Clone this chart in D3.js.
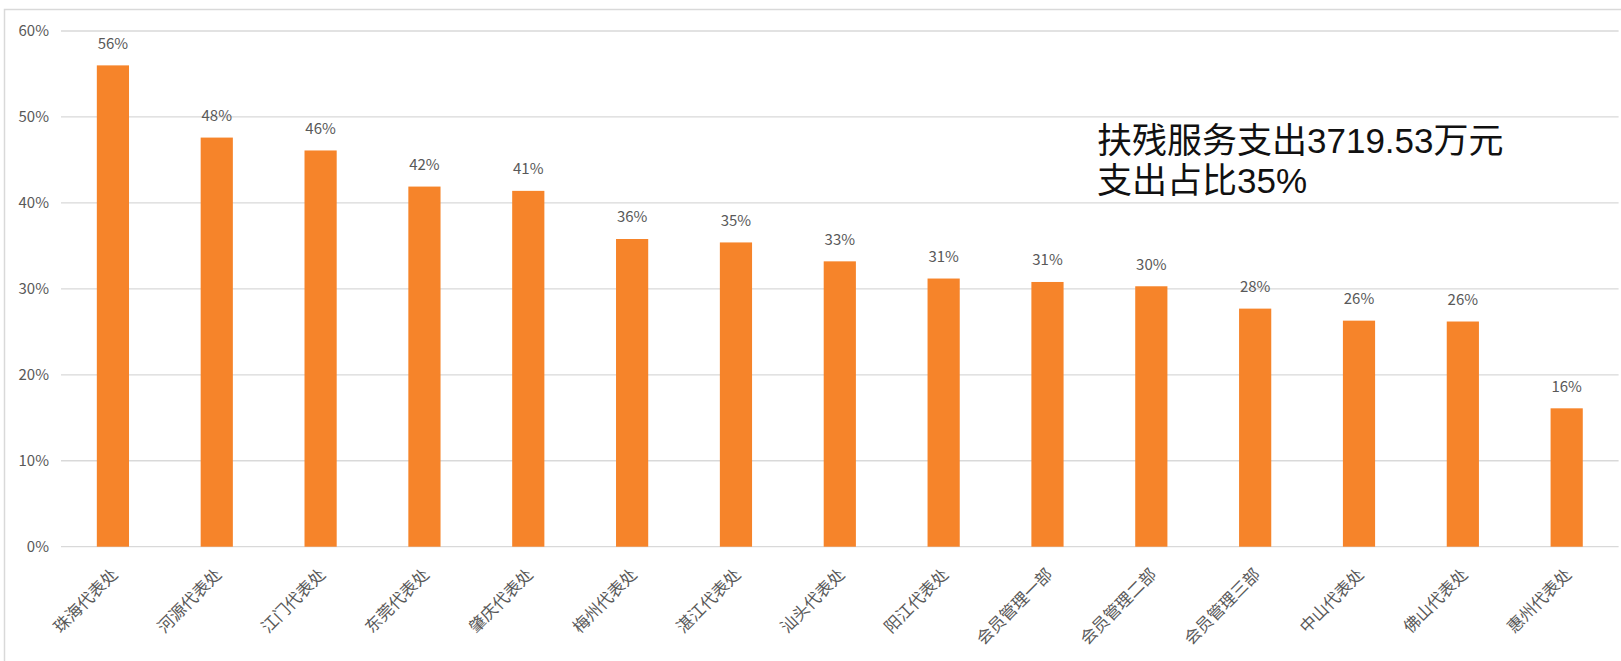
<!DOCTYPE html>
<html>
<head>
<meta charset="utf-8">
<style>
  body { margin: 0; background: #fff; }
  svg text { font-family: "Noto Sans CJK SC", "Noto Sans", sans-serif; }
  svg text.note { font-family: "Liberation Sans", "Noto Sans CJK SC", sans-serif; }
</style>
</head>
<body>
<div id="container"></div>
<script src="https://cdn.jsdelivr.net/npm/d3@7"></script>
<script>
// data (percent)
const categories = ["珠海代表处", "河源代表处", "江门代表处", "东莞代表处", "肇庆代表处",
  "梅州代表处", "湛江代表处", "汕头代表处", "阳江代表处", "会员管理一部",
  "会员管理二部", "会员管理三部", "中山代表处", "佛山代表处", "惠州代表处"];
const values = [56.0, 47.6, 46.1, 41.9, 41.4, 35.8, 35.4, 33.2, 31.2, 30.8, 30.3, 27.7, 26.3, 26.2, 16.1];
const yTicks = [0, 10, 20, 30, 40, 50, 60];
const note = ["扶残服务支出3719.53万元", "支出占比35%"];

const width = 1621;
const height = 661;

const svg = d3.create("svg")
    .attr("width", width)
    .attr("height", height);

// chart frame
svg.append("rect")
  .attr("x", 4.5)
  .attr("y", 9.5)
  .attr("width", 1700)
  .attr("height", 800)
  .attr("fill", "none")
  .attr("stroke", "#d9d9d9")
  .attr("stroke-width", 1.5);

const x = d3.scaleBand()
  .domain(categories)
  .range([61, 1618.6])
  .paddingInner(0.69)
  .paddingOuter(0.345);

const y = d3.scaleLinear()
  .domain([0, 60])
  .range([546.7, 31]);

// gridlines
svg.append("g")
  .selectAll("line")
  .data(yTicks)
  .join("line")
  .attr("x1", 61)
  .attr("x2", 1618.6)
  .attr("y1", d => y(d))
  .attr("y2", d => y(d))
  .attr("stroke", "#d9d9d9")
  .attr("stroke-width", 1.3);

// y axis labels
const fmt = d3.format(".0%");
svg.append("g")
  .selectAll("text")
  .data(yTicks)
  .join("text")
  .attr("x", 49)
  .attr("y", d => y(d) + 5)
  .attr("text-anchor", "end")
  .attr("font-size", 15)
  .attr("fill", "#595959")
  .text(d => fmt(d / 100));

// bars
svg.append("g")
  .selectAll("rect")
  .data(values)
  .join("rect")
  .attr("x", (d, i) => x(categories[i]))
  .attr("y", d => y(d))
  .attr("width", x.bandwidth())
  .attr("height", d => y(0) - y(d))
  .attr("fill", "#f6842a");

// value labels
svg.append("g")
  .selectAll("text")
  .data(values)
  .join("text")
  .attr("x", (d, i) => x(categories[i]) + x.bandwidth() / 2)
  .attr("y", d => y(d) - 16.5)
  .attr("text-anchor", "middle")
  .attr("font-size", 15)
  .attr("fill", "#595959")
  .text(d => fmt(d / 100));

// category labels, rotated
svg.append("g")
  .selectAll("text")
  .data(categories)
  .join("text")
  .attr("transform", d => `translate(${x(d) + x.bandwidth() / 2 + 6},${y(0) + 29}) rotate(-45)`)
  .attr("text-anchor", "end")
  .attr("font-size", 16.5)
  .attr("fill", "#595959")
  .text(d => d);

// annotation (two lines)
svg.append("g")
  .selectAll("text")
  .data(note)
  .join("text")
  .attr("class", "note")
  .attr("x", 1097)
  .attr("y", (d, i) => 153 + i * 40)
  .attr("font-size", 35)
  .attr("fill", "#111")
  .text(d => d);

container.append(svg.node());
</script>
</body>
</html>
